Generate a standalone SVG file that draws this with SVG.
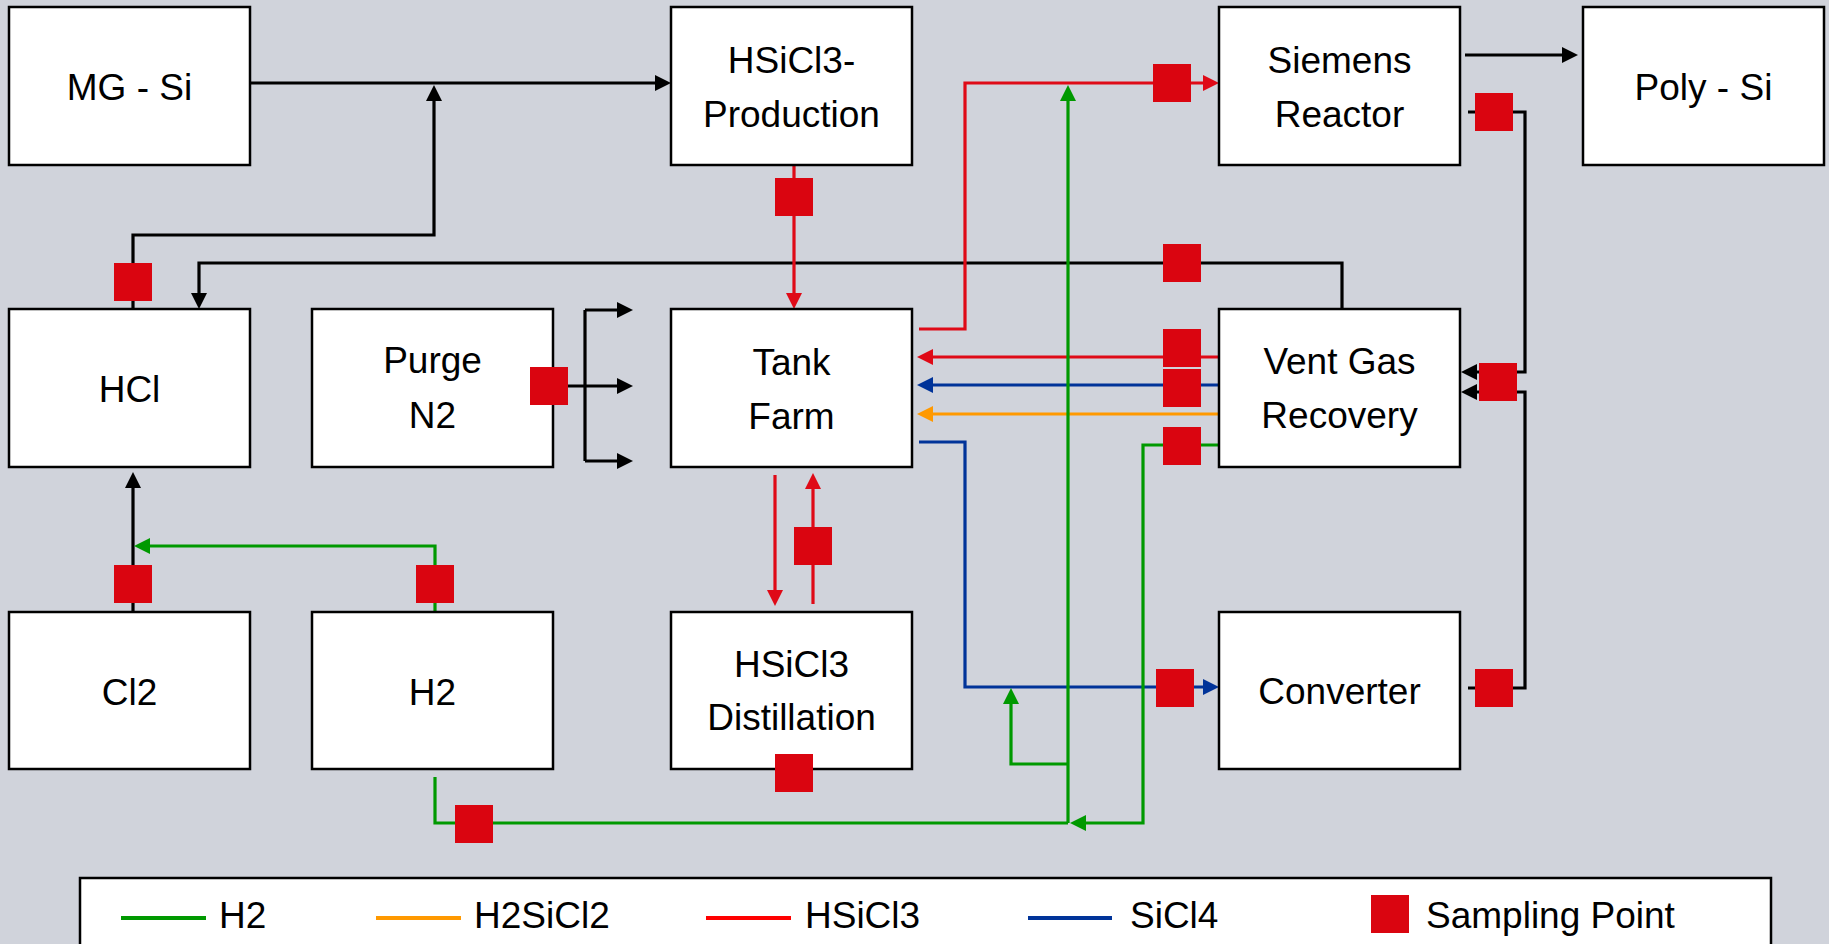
<svg xmlns="http://www.w3.org/2000/svg" width="1829" height="944" viewBox="0 0 1829 944">
<style>
.box{fill:#fff;stroke:#000;stroke-width:2.5}
.t{font-family:"Liberation Sans",Arial,sans-serif;font-size:37px;fill:#000;text-anchor:middle}
.lt{font-family:"Liberation Sans",Arial,sans-serif;font-size:37px;fill:#000}
.c{fill:none;stroke-width:3.2;stroke-linejoin:miter}
.k{stroke:#000}
.r{stroke:#DF0A17}
.b{stroke:#003399}
.o{stroke:#FF9900}
.g{stroke:#009900}
.sp{fill:#DA0510}
</style>
<defs>
<marker id="ak" markerUnits="userSpaceOnUse" markerWidth="16" markerHeight="16" refX="10" refY="8" orient="auto" viewBox="0 0 16 16"><path d="M0,0 L16,8 L0,16 z" fill="#000"/></marker>
<marker id="ar" markerUnits="userSpaceOnUse" markerWidth="16" markerHeight="16" refX="10" refY="8" orient="auto" viewBox="0 0 16 16"><path d="M0,0 L16,8 L0,16 z" fill="#DF0A17"/></marker>
<marker id="ab" markerUnits="userSpaceOnUse" markerWidth="16" markerHeight="16" refX="10" refY="8" orient="auto" viewBox="0 0 16 16"><path d="M0,0 L16,8 L0,16 z" fill="#003399"/></marker>
<marker id="ao" markerUnits="userSpaceOnUse" markerWidth="16" markerHeight="16" refX="10" refY="8" orient="auto" viewBox="0 0 16 16"><path d="M0,0 L16,8 L0,16 z" fill="#FF9900"/></marker>
<marker id="ag" markerUnits="userSpaceOnUse" markerWidth="16" markerHeight="16" refX="10" refY="8" orient="auto" viewBox="0 0 16 16"><path d="M0,0 L16,8 L0,16 z" fill="#009900"/></marker>
</defs>
<rect width="1829" height="944" fill="#D0D3DB"/>

<g id="connectors">
<path class="c k" d="M250,83 H665" marker-end="url(#ak)"/>
<path class="c k" d="M133,309 V235 H434 V91" marker-end="url(#ak)"/>
<path class="c k" d="M1342,309 V263 H199 V303" marker-end="url(#ak)"/>
<path class="c k" d="M1465,55 H1572" marker-end="url(#ak)"/>
<path class="c k" d="M1468,112 H1525 V372 H1467" marker-end="url(#ak)"/>
<path class="c k" d="M1468,688 H1525 V392 H1467" marker-end="url(#ak)"/>
<path class="c k" d="M133,612 V478" marker-end="url(#ak)"/>
<path class="c k" d="M553,386 H627" marker-end="url(#ak)"/>
<path class="c k" d="M585,310 V461"/>
<path class="c k" d="M585,310 H627" marker-end="url(#ak)"/>
<path class="c k" d="M585,461 H627" marker-end="url(#ak)"/>
<path class="c r" d="M794,165 V303" marker-end="url(#ar)"/>
<path class="c r" d="M919,329 H965 V83 H1213" marker-end="url(#ar)"/>
<path class="c r" d="M1219,357 H923" marker-end="url(#ar)"/>
<path class="c r" d="M775,475 V600" marker-end="url(#ar)"/>
<path class="c r" d="M813,604 V479" marker-end="url(#ar)"/>
<path class="c b" d="M1219,385 H923" marker-end="url(#ab)"/>
<path class="c b" d="M919,442 H965 V687 H1213" marker-end="url(#ab)"/>
<path class="c o" d="M1219,414 H923" marker-end="url(#ao)"/>
<path class="c g" d="M435,612 V546 H140" marker-end="url(#ag)"/>
<path class="c g" d="M435,777 V823 H1068"/>
<path class="c g" d="M1219,445 H1143 V823 H1076" marker-end="url(#ag)"/>
<path class="c g" d="M1068,823 V91" marker-end="url(#ag)"/>
<path class="c g" d="M1068,764 H1011 V694" marker-end="url(#ag)"/>
</g>

<g id="mg-si"><rect class="box" x="9" y="7" width="241" height="158"/><text class="t" x="129.5" y="100">MG - Si</text></g>
<g id="hsicl3-production"><rect class="box" x="671" y="7" width="241" height="158"/><text class="t" x="791.5" y="73">HSiCl3-</text><text class="t" x="791.5" y="127">Production</text></g>
<g id="siemens-reactor"><rect class="box" x="1219" y="7" width="241" height="158"/><text class="t" x="1339.5" y="73">Siemens</text><text class="t" x="1339.5" y="127">Reactor</text></g>
<g id="poly-si"><rect class="box" x="1583" y="7" width="241" height="158"/><text class="t" x="1703.5" y="100">Poly - Si</text></g>
<g id="hcl"><rect class="box" x="9" y="309" width="241" height="158"/><text class="t" x="129.5" y="402">HCl</text></g>
<g id="purge-n2"><rect class="box" x="312" y="309" width="241" height="158"/><text class="t" x="432.5" y="373">Purge</text><text class="t" x="432.5" y="428">N2</text></g>
<g id="tank-farm"><rect class="box" x="671" y="309" width="241" height="158"/><text class="t" x="791.5" y="375">Tank</text><text class="t" x="791.5" y="429">Farm</text></g>
<g id="vent-gas-recovery"><rect class="box" x="1219" y="309" width="241" height="158"/><text class="t" x="1339.5" y="374">Vent Gas</text><text class="t" x="1339.5" y="428">Recovery</text></g>
<g id="cl2"><rect class="box" x="9" y="612" width="241" height="157"/><text class="t" x="129.5" y="705">Cl2</text></g>
<g id="h2"><rect class="box" x="312" y="612" width="241" height="157"/><text class="t" x="432.5" y="705">H2</text></g>
<g id="hsicl3-distillation"><rect class="box" x="671" y="612" width="241" height="157"/><text class="t" x="791.5" y="677">HSiCl3</text><text class="t" x="791.5" y="730">Distillation</text></g>
<g id="converter"><rect class="box" x="1219" y="612" width="241" height="157"/><text class="t" x="1339.5" y="704">Converter</text></g>

<g id="sampling-points">
<rect class="sp" x="114" y="263" width="38" height="38"/>
<rect class="sp" x="775" y="178" width="38" height="38"/>
<rect class="sp" x="1153" y="64" width="38" height="38"/>
<rect class="sp" x="1163" y="244" width="38" height="38"/>
<rect class="sp" x="1475" y="93" width="38" height="38"/>
<rect class="sp" x="1479" y="363" width="38" height="38"/>
<rect class="sp" x="530" y="367" width="38" height="38"/>
<rect class="sp" x="1163" y="329" width="38" height="38"/>
<rect class="sp" x="1163" y="369" width="38" height="38"/>
<rect class="sp" x="1163" y="427" width="38" height="38"/>
<rect class="sp" x="794" y="527" width="38" height="38"/>
<rect class="sp" x="114" y="565" width="38" height="38"/>
<rect class="sp" x="416" y="565" width="38" height="38"/>
<rect class="sp" x="775" y="754" width="38" height="38"/>
<rect class="sp" x="1156" y="669" width="38" height="38"/>
<rect class="sp" x="1475" y="669" width="38" height="38"/>
<rect class="sp" x="455" y="805" width="38" height="38"/>
</g>

<g id="legend">
<rect x="80" y="878" width="1691" height="90" fill="#fff" stroke="#000" stroke-width="2.5"/>
<line x1="121" y1="918" x2="206" y2="918" stroke="#009900" stroke-width="4"/>
<text class="lt" x="219" y="928">H2</text>
<line x1="376" y1="918" x2="461" y2="918" stroke="#FF9900" stroke-width="4"/>
<text class="lt" x="474" y="928">H2SiCl2</text>
<line x1="706" y1="918" x2="791" y2="918" stroke="#FF0000" stroke-width="4"/>
<text class="lt" x="805" y="928">HSiCl3</text>
<line x1="1028" y1="918" x2="1112" y2="918" stroke="#003399" stroke-width="4"/>
<text class="lt" x="1130" y="928">SiCl4</text>
<rect class="sp" x="1371" y="895" width="38" height="38"/>
<text class="lt" x="1426" y="928">Sampling Point</text>
</g>
</svg>
